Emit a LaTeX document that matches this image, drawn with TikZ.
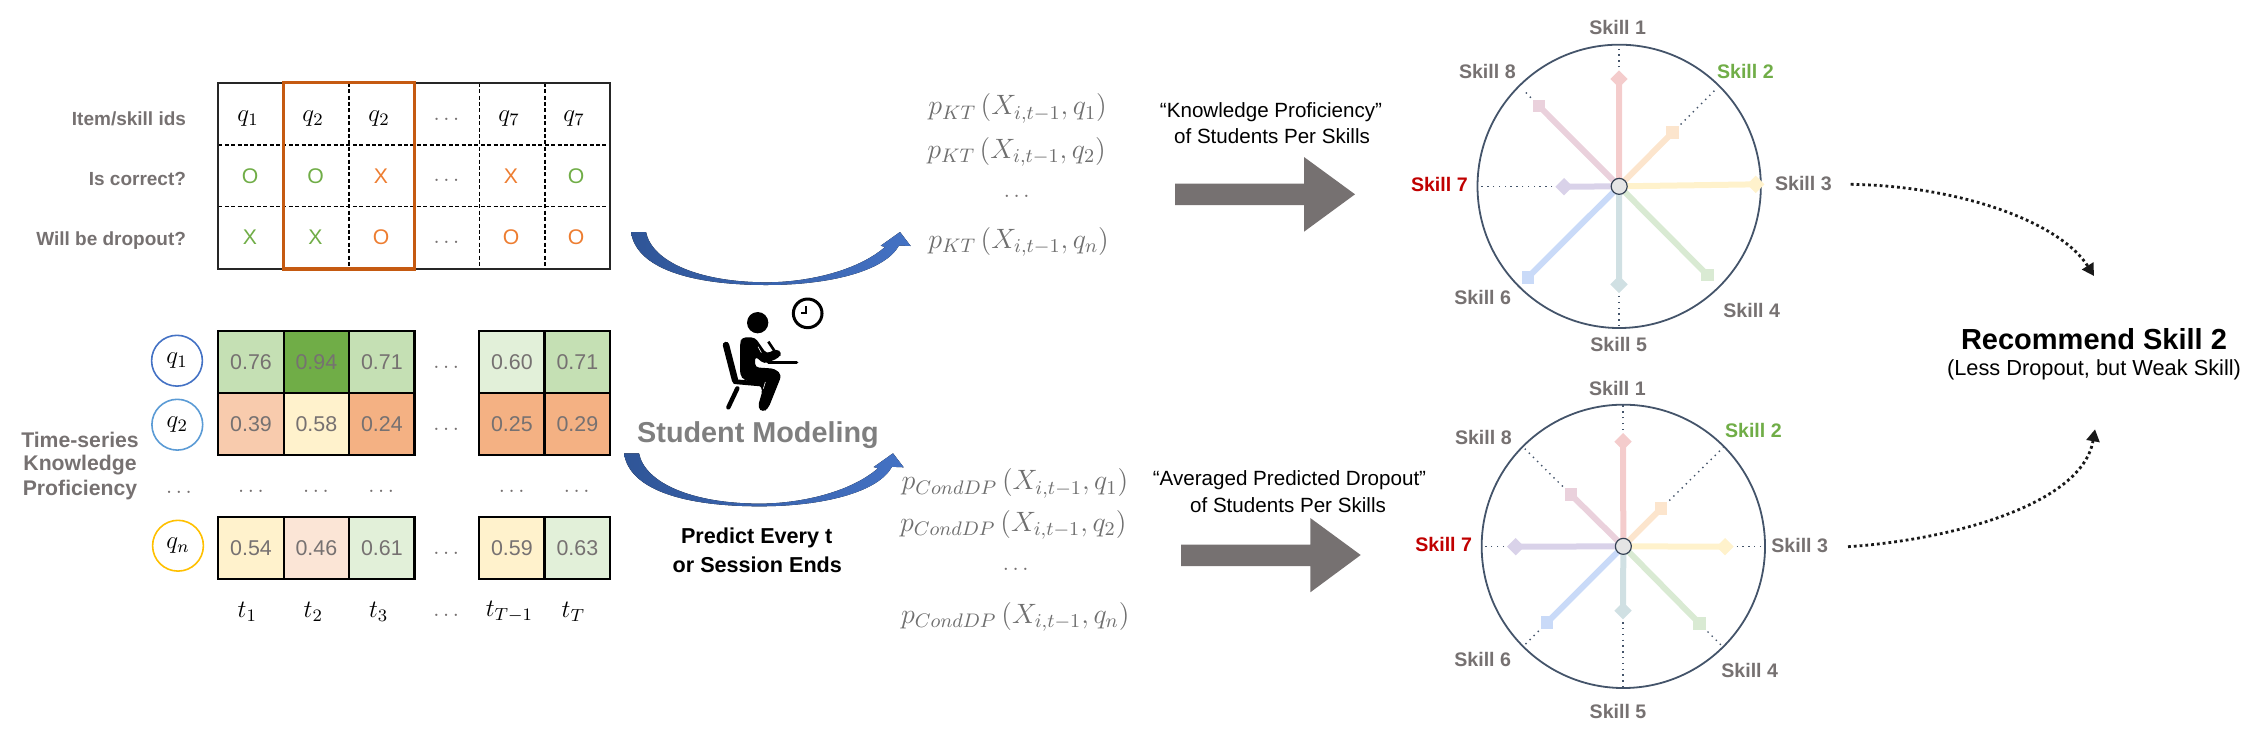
\documentclass[tikz,border=0pt]{standalone}
\usepackage{fix-cm}
\usepackage[no-math]{fontspec}
\setmainfont{Liberation Sans}
\usetikzlibrary{shapes.geometric,arrows.meta}
\definecolor{lblgrey}{HTML}{767171}
\definecolor{mathgrey}{HTML}{6F6F6F}
\definecolor{titlegrey}{HTML}{7F7F7F}
\definecolor{okgreen}{HTML}{70AD47}
\definecolor{badorange}{HTML}{ED7D31}
\definecolor{framebrown}{HTML}{C55A11}
\definecolor{rimblue}{HTML}{44546A}
\definecolor{skillred}{HTML}{C00000}
\definecolor{bend}{HTML}{2F5597}
\definecolor{bstart}{HTML}{4472C4}
\definecolor{ringb}{HTML}{5B9BD5}
\definecolor{ringy}{HTML}{FFC000}
\definecolor{hA}{HTML}{C5E0B4}
\definecolor{hB}{HTML}{70AD47}
\definecolor{hC}{HTML}{E2F0D9}
\definecolor{hD}{HTML}{F8CBAD}
\definecolor{hE}{HTML}{FFF2CC}
\definecolor{hF}{HTML}{F4B183}
\definecolor{hG}{HTML}{FBE5D6}
\definecolor{s1}{HTML}{F4CCCC}
\definecolor{s2}{HTML}{FCE5CD}
\definecolor{s3}{HTML}{FFF2CC}
\definecolor{s4}{HTML}{D9EAD3}
\definecolor{s5}{HTML}{D0E0E3}
\definecolor{s6}{HTML}{C9DAF8}
\definecolor{s7}{HTML}{D9D2E9}
\definecolor{s8}{HTML}{EAD1DC}
\newcommand{\fsz}[1]{\fontsize{#1}{#1}\selectfont}
\tikzset{
  every node/.style={inner sep=0pt,outer sep=0pt},
  rowlabel/.style={font=\fsz{9.5}\bfseries,text=lblgrey},
  sidelabel/.style={font=\fsz{10.6}\bfseries,text=lblgrey,align=center},
  idcell/.style={font=\fsz{12.5}},
  markcell/.style={font=\fsz{10.6}},
  heatcell/.style={draw=black,line width=1.1pt,minimum width=32.7pt,minimum height=31pt,
    font=\fsz{10.7},text=lblgrey},
  dotscell/.style={font=\fsz{11},text=lblgrey},
  qring/.style={circle,draw,line width=0.8pt,minimum size=25.4pt,font=\fsz{12.5}},
  formula/.style={anchor=west,text=mathgrey,font=\fsz{14}},
  caption/.style={font=\fsz{10.3}},
  skill/.style={font=\fsz{9.8}\bfseries,text=lblgrey},
  spoke/.style={line width=3pt},
  guide/.style={rimblue,line width=0.7pt,dash pattern=on 0.7pt off 2.2pt},
  mdia/.style={diamond,aspect=1,minimum width=8.7pt,minimum height=8.7pt},
  msq/.style={rectangle,minimum width=6.3pt,minimum height=6.3pt},
  hub/.style={circle,draw=rimblue!80!black,fill=black!10,line width=0.6pt,minimum size=8pt},
  bigarrow/.style={fill=lblgrey},
  bluearrow/.style={left color=bend,right color=bstart,draw=none},
  recommend/.style={draw=black!90,line width=1.4pt,dash pattern=on 1.4pt off 1.5pt,
    -{Triangle[length=6pt,width=6.5pt]}},
}
% One spoke chart: #1 prefix, #2 origin, #3 hub, #4 rim radius, #5 spoke ends, #6 labels
\newcommand{\skillwheel}[6]{
  \begin{scope}[shift={#2},x=0.16667pt,y=-0.16667pt]
    \coordinate (#1c) at #3;
    \draw[rimblue,line width=0.9pt] (#1c) circle[radius=#4];
    \foreach \n/\ex/\ey/\gx/\gy/\mk in {#5}{
      \coordinate (#1e\n) at (\ex,\ey);
      \coordinate (#1g\n) at (\gx,\gy);
      \draw[guide] (#1e\n) -- (#1g\n);
      \draw[spoke,s\n] (#1c) -- (#1e\n);
      \node[\mk,fill=s\n] (#1m\n) at (#1e\n) {};
    }
    \node[hub] (#1hub) at (#1c) {};
    \foreach \n/\lx/\ly/\lc in {#6}{
      \node[skill,text=\lc] (#1l\n) at (\lx,\ly) {Skill \n};
    }
  \end{scope}
}
% Curved block arrow, drawn for the first copy and shifted for the second
\newcommand{\sweep}[1]{
  \begin{scope}[shift={#1}]
    \fill[bluearrow] (631,232) -- (646,232)
      .. controls (652,262) and (700,282.3) .. (766.7,282.3)
      .. controls (805,282.3) and (856,272) .. (885,247)
      -- (880.7,245.7) -- (900,232) -- (910.7,246) -- (899,245.5)
      .. controls (885,271) and (830,285) .. (766.7,285)
      .. controls (690,285) and (636,268) .. (631,232) -- cycle;
  \end{scope}
}
\begin{document}
\begin{tikzpicture}[x=0.5pt,y=-0.5pt]
\useasboundingbox (0,0) rectangle (2264,741);

% interaction table
\node[rowlabel,anchor=east] (lab1) at (186,118.3) {Item/skill ids};
\node[rowlabel,anchor=east] (lab2) at (186,179.3) {Is correct?};
\node[rowlabel,anchor=east] (lab3) at (186,240.7) {Will be dropout?};
\foreach \x/\lab [count=\k] in {248/q_1,313/q_2,379/q_2,509/q_7,574/q_7}
  \node[idcell] (id\k) at (\x,119) {$\lab$};
\foreach \x/\c/\t [count=\k] in {250/okgreen/O,315.5/okgreen/O,381/badorange/X,511/badorange/X,576/okgreen/O}
  \node[markcell,text=\c] (cor\k) at (\x,175.7) {\t};
\foreach \x/\c/\t [count=\k] in {250/okgreen/X,315.5/okgreen/X,381/badorange/O,511/badorange/O,576/badorange/O}
  \node[markcell,text=\c] (drop\k) at (\x,236.7) {\t};
\node[dotscell] (dA) at (446.5,119) {$\dots$};
\node[dotscell] (dB) at (446.5,180.7) {$\dots$};
\node[dotscell] (dC) at (446.5,242) {$\dots$};
\draw[line width=0.6pt,dash pattern=on 2pt off 1.2pt] (218.4,145) -- (610,145) (218.4,206.7) -- (610,206.7);
\foreach \x in {349,479.6,545}
  \draw[line width=0.6pt,dash pattern=on 2pt off 1.2pt] (\x,82.7) -- (\x,269);
\draw[black!85,line width=1pt] (218.4,82.7) rectangle (610,269);
\draw[framebrown,line width=1.7pt] (283.7,82.7) rectangle (414.7,269);

% knowledge proficiency heat map
\node[sidelabel] (tsk1) at (80,440) {Time-series};
\node[sidelabel] (tsk2) at (80,465) {Knowledge};
\node[sidelabel] (tsk3) at (80,490) {Proficiency};
\node[qring,draw=bstart] (q1) at (177,360.7) {$q_1$};
\node[qring,draw=ringb] (q2) at (177.3,424.7) {$q_2$};
\node[qring,draw=ringy] (qn) at (178,545.7) {$q_n$};
\foreach \x/\f/\v [count=\k] in {251/hA/0.76,316.35/hB/0.94,381.85/hA/0.71,511.85/hC/0.60,577.35/hA/0.71}
  \node[heatcell,fill=\f] (ha\k) at (\x,362) {\v};
\foreach \x/\f/\v [count=\k] in {251/hD/0.39,316.35/hE/0.58,381.85/hF/0.24,511.85/hF/0.25,577.35/hF/0.29}
  \node[heatcell,fill=\f] (hb\k) at (\x,424) {\v};
\foreach \x/\f/\v [count=\k] in {251/hE/0.54,316.35/hG/0.46,381.85/hC/0.61,511.85/hE/0.59,577.35/hC/0.63}
  \node[heatcell,fill=\f] (hc\k) at (\x,548.2) {\v};
\foreach \x/\y [count=\k] in {179/492.7,251/491,316/491,381.3/491,511.7/491,576.7/491}
  \node[dotscell] (dr\k) at (\x,\y) {$\dots$};
\node[dotscell] (dq1) at (446.3,367.7) {$\dots$};
\node[dotscell] (dq2) at (446.3,429.3) {$\dots$};
\node[dotscell] (dq3) at (446.3,553.3) {$\dots$};
\node[dotscell] (dq4) at (446.3,615.7) {$\dots$};
\foreach \x/\lab [count=\k] in {247.3/t_1,313.3/t_2,378.7/t_3,509.3/t_{T-1},573.3/t_T}
  \node[idcell] (tt\k) at (\x,612) {$\lab$};

% student icon
\begin{scope}[shift={(620,280)},x=0.16667pt,y=-0.16667pt]
  \fill (413,128) circle[radius=32];
  \draw[line width=3.2pt,line cap=round] (318,195) -- (345,300);
  \draw[line width=2.4pt,line cap=round] (345,305) -- (425,312);
  \draw[line width=2.2pt,line cap=round] (352,325) -- (325,382);
  \fill[rounded corners=2pt] (360,190) -- (365,172) -- (405,172) -- (440,222) -- (468,206)
    -- (487,218) -- (476,234) -- (432,252) -- (405,228) -- (405,262) -- (465,266) -- (485,285)
    -- (445,385) -- (428,397) -- (413,382) -- (428,330) -- (420,315) -- (372,300) -- (360,285) -- cycle;
  \draw[line width=1.3pt] (445,185) -- (463,212);
  \draw[line width=1.6pt,line cap=round] (445,248) -- (530,248);
  \draw[white,line width=0.3pt] (414,200) -- (424,218) (436,306) -- (430,326);
  \draw[line width=1.5pt] (563,100) circle[radius=43];
  \draw[line width=1.1pt] (558,78) -- (558,100) -- (543,100);
\end{scope}
\node[font=\fsz{14.4}\bfseries,text=titlegrey] (sm) at (758,435) {Student Modeling};
\node[font=\fsz{10.8}\bfseries] (pe1) at (756.7,538.3) {Predict Every t};
\node[font=\fsz{10.8}\bfseries] (pe2) at (757.3,565) {or Session Ends};
\sweep{(0,0)}
\sweep{(-7,221.3)}

% predicted probabilities
\node[formula] (k1) at (928.3,108.3) {$p_{KT}\,(X_{i,t-1},q_1)$};
\node[formula] (k2) at (927.3,151.7) {$p_{KT}\,(X_{i,t-1},q_2)$};
\node[dotscell] (k3) at (1016.7,196.7) {$\dots$};
\node[formula] (k4) at (928.3,241.7) {$p_{KT}\,(X_{i,t-1},q_n)$};
\node[formula] (c1) at (901.7,483.3) {$p_{CondDP}\,(X_{i,t-1},q_1)$};
\node[formula] (c2) at (900,525) {$p_{CondDP}\,(X_{i,t-1},q_2)$};
\node[dotscell] (c3) at (1015.7,569) {$\dots$};
\node[formula] (c4) at (901,616.7) {$p_{CondDP}\,(X_{i,t-1},q_n)$};

% aggregation arrows and captions
\node[caption] (cap1) at (1271,112) {“Knowledge Proficiency”};
\node[caption] (cap2) at (1272,136) {of Students Per Skills};
\fill[bigarrow] (1175,183.7) -- (1304,183.7) -- (1304,157) -- (1355,194.3) -- (1304,231.7) -- (1304,205) -- (1175,205) -- cycle;
\node[caption] (cap3) at (1289.5,480) {“Averaged Predicted Dropout”};
\node[caption] (cap4) at (1288,505) {of Students Per Skills};
\fill[bigarrow] (1181,544.7) -- (1310.3,544.7) -- (1310.3,518) -- (1360.7,555) -- (1310.3,592.3) -- (1310.3,566) -- (1181,566) -- cycle;

% skill wheels
\skillwheel{a}{(1390,0)}{(687.5,559)}{425}{
  1/687/237/687/135/mdia,2/847/398/975/270/msq,3/1097/553/1097/553/mdia,4/952/825/975/848/msq,
  5/687/853/687/983/mdia,6/414/832/414/832/msq,7/522/560/270/560/mdia,8/447/318/400/270/msq}{
  1/683/82/lblgrey,2/1066/215/okgreen,3/1240/551/lblgrey,4/1085/931/lblgrey,
  5/686/1034/lblgrey,6/278/892/lblgrey,7/148/554/skillred,8/292/214/lblgrey}
\skillwheel{b}{(1390,370)}{(700,529)}{425}{
  1/699/215/699/105/mdia,2/813/416/1000/232/msq,3/1005/530/1126/530/mdia,4/928/760/1000/832/msq,
  5/699/722/699/953/mdia,6/471/758/400/829/msq,7/377/530/274/530/mdia,8/543/374/400/232/msq}{
  1/682/55/lblgrey,2/1090/182/okgreen,3/1229/527/lblgrey,4/1079/901/lblgrey,
  5/684/1025/lblgrey,6/278/868/lblgrey,7/161/524/skillred,8/280/202/lblgrey}

% recommendation
\node[font=\fsz{14.5}\bfseries] (rec) at (2094,339) {Recommend Skill 2};
\node[font=\fsz{10.9}] (recsub) at (2094,370) {(Less Dropout, but Weak Skill)};
\coordinate (fromA) at (1850.7,184.3);
\coordinate (toA) at (2094,276);
\coordinate (fromB) at (1848,546.7);
\coordinate (toB) at (2095,429.3);
\draw[recommend] (fromA) .. controls (1960,186) and (2060,222) .. (toA);
\draw[recommend] (fromB) .. controls (1950,540) and (2082,505) .. (toB);
\end{tikzpicture}
\end{document}
